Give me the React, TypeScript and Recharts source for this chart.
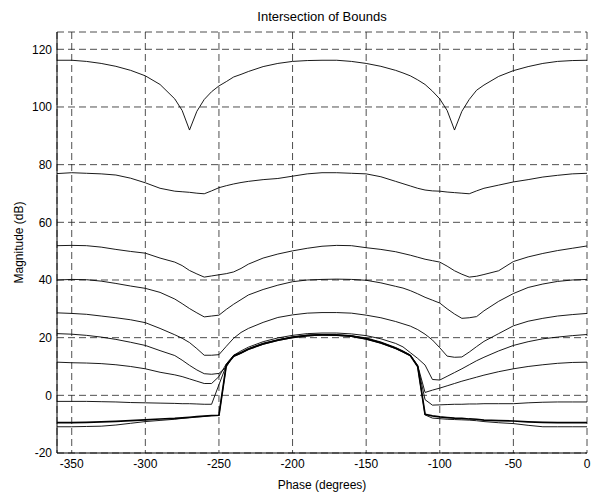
import { LineChart, Line, XAxis, YAxis, CartesianGrid } from "recharts";

// phase grid (degrees)
const phase = [
  -360, -350, -340, -330, -320, -310, -300, -290, -280, -275, -270, -265, -260, -255, -250, -245,
  -240, -235, -230, -220, -210, -200, -190, -180, -170, -160, -150, -140, -130, -125, -120, -115,
  -110, -105, -100, -95, -90, -85, -80, -75, -70, -60, -50, -40, -30, -20, -10, 0,
];

// magnitude bounds (dB), one array per frequency
const bound1 = [
  116.2, 116.2, 115.8, 115.1, 114.1, 112.7, 110.8, 107.8, 102.8, 98.8, 92, 98.5, 102.6, 105.3, 107.3, 108.8,
  110.4, 111.3, 112.3, 114.0, 115.1, 115.8, 116.1, 116.2, 116.2, 115.8, 115.1, 114.1, 112.7, 111.8, 110.8, 109.4,
  107.8, 105.5, 102.8, 98.8, 92, 98.5, 102.6, 105.8, 107.6, 110.6, 112.6, 114.0, 115.1, 115.8, 116.1, 116.2,
];
const bound2 = [
  76.9, 77.2, 77.0, 76.8, 76.4, 75.3, 73.7, 71.8, 70.8, 70.6, 70.4, 70.1, 69.9, 70.9, 72.0, 72.7,
  73.3, 73.8, 74.2, 74.8, 75.2, 76.0, 76.8, 77.2, 77.2, 77.0, 76.8, 75.8, 74.2, 73.4, 72.6, 71.8,
  71.2, 70.9, 70.8, 70.5, 70.3, 70.1, 69.9, 70.9, 71.8, 72.9, 74.0, 74.8, 75.7, 76.3, 76.8, 77.0,
];
const bound3 = [
  51.9, 52.0, 51.9, 51.4, 50.6, 49.9, 49.3, 47.6, 46.2, 45.0, 43.3, 42.1, 41.0, 41.4, 41.8, 42.2,
  42.8, 44.0, 45.5, 47.6, 49.0, 50.1, 51.0, 51.7, 52.0, 51.9, 51.2, 50.6, 49.8, 49.2, 48.6, 47.9,
  47.2, 46.7, 46.2, 44.8, 43.2, 42.0, 41.0, 41.3, 41.9, 43.2, 46.4, 48.0, 49.2, 50.2, 51.0, 51.8,
];
const bound4 = [
  40.0, 40.2, 40.1, 39.6, 38.8, 37.9, 37.1, 35.7, 33.4, 31.8, 30.1, 28.6, 27.2, 27.5, 27.8, 29.8,
  31.6, 33.2, 34.8, 36.7, 38.2, 39.4, 40.0, 40.2, 40.3, 40.2, 39.9, 39.0, 37.8, 37.2, 36.3, 35.2,
  34.0, 33.0, 32.0, 30.0, 28.2, 26.7, 26.9, 27.3, 29.3, 32.6, 35.3, 37.4, 38.6, 39.5, 40.0, 40.2,
];
const bound5 = [
  28.6, 28.4, 28.1, 27.5, 26.9, 26.2, 25.2, 23.2, 21.0, 19.8, 18.3, 16.2, 13.9, 13.9, 14.1, 17.0,
  19.8, 21.8, 23.2, 25.3, 27.0, 27.9, 28.5, 28.7, 28.7, 28.5, 27.8, 26.9, 25.6, 24.8, 24.0, 22.8,
  21.2, 19.2, 16.5, 13.6, 13.2, 13.3, 15.0, 16.9, 18.7, 21.4, 24.1, 25.7, 26.7, 27.5, 28.0, 28.4,
];
const bound6 = [
  21.4, 21.2, 20.8, 20.2, 19.4, 18.4, 17.3, 15.5, 13.8, 12.2, 10.4, 8.8, 7.5, 7.3, 7.6, 9.8,
  13.9, 15.4, 16.7, 18.6, 19.9, 20.8, 21.4, 21.6, 21.6, 21.3, 20.7, 19.6, 18.0, 16.8, 14.8, 12.8,
  10.5, 5.5, 5.3, 6.6, 7.9, 9.2, 10.6, 12.0, 13.2, 15.4, 17.3, 18.6, 19.6, 20.2, 20.7, 21.1,
];
const bound7 = [
  11.5, 11.3, 11.2, 11.0, 10.6, 10.0, 9.2, 8.0, 7.1, 6.5, 5.7, 4.9, 4.1, 4.1, 6.5, 10.9,
  13.9, 14.9, 16.2, 18.1, 19.3, 20.3, 20.9, 21.1, 21.0, 20.7, 19.9, 18.5, 16.6, 15.4, 14.0, 10.4,
  1.0, 1.8, 2.5, 3.3, 4.1, 4.9, 5.6, 6.3, 7.0, 8.2, 9.2, 10.0, 10.6, 11.1, 11.4, 11.5,
];
const bound8 = [
  -2.1, -2.1, -2.1, -2.2, -2.3, -2.5, -2.6, -2.7, -2.8, -2.9, -2.9, -3.0, -3.1, -3.1, 3.7, 10.4,
  13.7, 14.8, 16.1, 17.9, 19.2, 20.2, 20.8, 21.0, 20.9, 20.6, 19.7, 18.3, 16.4, 15.2, 13.9, 10.2,
  -1.5, -3.4, -3.3, -3.2, -3.1, -3.1, -3.0, -3.0, -2.9, -2.9, -2.9, -2.6, -2.4, -2.3, -2.3, -2.3,
];
const bound9 = [
  -9.5, -9.5, -9.4, -9.2, -9.0, -8.8, -8.5, -8.2, -8.0, -7.8, -7.6, -7.4, -7.2, -7.0, -6.9, 10.5,
  13.6, 14.7, 16.0, 17.8, 19.1, 20.1, 20.7, 21.0, 20.9, 20.5, 19.6, 18.2, 16.3, 15.1, 13.8, 10.0,
  -6.6, -7.1, -7.5, -7.7, -7.9, -8.0, -8.2, -8.3, -8.6, -8.8, -8.9, -9.2, -9.4, -9.5, -9.5, -9.5,
];
const bound10 = [
  -10.9, -10.9, -10.8, -10.7, -10.3, -9.7, -9.1, -8.7, -8.3, -8.0, -7.8, -7.5, -7.3, -7.1, -7.0, 10.3,
  13.5, 14.6, 15.9, 17.7, 19.0, 20.0, 20.6, 20.9, 20.8, 20.4, 19.5, 18.1, 16.2, 15.0, 13.7, 9.9,
  -6.8, -7.9, -8.1, -8.3, -8.4, -8.5, -8.6, -8.8, -9.1, -9.5, -9.8, -10.4, -10.9, -10.9, -10.9, -10.9,
];

const xTicks = [-350, -300, -250, -200, -150, -100, -50, 0];
const yTicks = [-20, 0, 20, 40, 60, 80, 100, 120];

const bounds = [bound1, bound2, bound3, bound4, bound5, bound6, bound7, bound8, bound9, bound10];

const data = phase.map((p, i) => {
  const row: Record<string, number> = { phase: p };
  bounds.forEach((b, k) => (row[`b${k + 1}`] = b[i]));
  return row;
});

const font = "'Liberation Sans', Arial, Helvetica, sans-serif";
const tickStyle = { fill: "#000", fontSize: 12, fontFamily: font };

export default function App() {
  return (
    <div style={{ position: "absolute", left: 0, top: 0, width: 593, height: 492, background: "#fff" }}>
      <div
        style={{
          position: "absolute",
          left: 57,
          width: 530,
          top: 9,
          textAlign: "center",
          fontFamily: font,
          fontSize: 13,
          lineHeight: "15px",
          color: "#000",
        }}
      >
        Intersection of Bounds
      </div>
      <LineChart width={593} height={492} data={data} margin={{ top: 32, right: 6, bottom: 0, left: 0 }}>
        <CartesianGrid xAxisId="b" yAxisId="l" stroke="#222" strokeDasharray="7 4" strokeWidth={0.8} />
        <XAxis
          xAxisId="bt"
          orientation="bottom"
          type="number"
          dataKey="phase"
          domain={[-360, 0]}
          ticks={xTicks}
          height={0}
          mirror
          tick={false}
          tickSize={5}
          axisLine={false}
          tickLine={{ stroke: "#000" }}
          allowDataOverflow
        />
        <XAxis
          xAxisId="b"
          type="number"
          dataKey="phase"
          domain={[-360, 0]}
          ticks={xTicks}
          height={39}
          tick={tickStyle}
          tickLine={false}
          tickSize={4}
          tickMargin={2}
          axisLine={{ stroke: "#000" }}
          allowDataOverflow
          label={{ value: "Phase (degrees)", position: "insideBottom", offset: 3, fill: "#000", fontSize: 12, fontFamily: font }}
        />
        <XAxis
          xAxisId="t"
          orientation="top"
          type="number"
          dataKey="phase"
          domain={[-360, 0]}
          ticks={xTicks}
          height={0}
          mirror
          tick={false}
          tickSize={5}
          axisLine={{ stroke: "#000" }}
          tickLine={{ stroke: "#000" }}
          allowDataOverflow
        />
        <YAxis
          yAxisId="lt"
          orientation="left"
          type="number"
          domain={[-20, 126]}
          ticks={yTicks}
          width={0}
          mirror
          tick={false}
          tickSize={5}
          axisLine={false}
          tickLine={{ stroke: "#000" }}
          allowDataOverflow
        />
        <YAxis
          yAxisId="l"
          type="number"
          domain={[-20, 126]}
          ticks={yTicks}
          width={57}
          tick={tickStyle}
          tickLine={false}
          tickSize={5}
          tickMargin={0}
          axisLine={{ stroke: "#000" }}
          allowDataOverflow
          label={{ value: "Magnitude (dB)", angle: -90, position: "center", dx: -10, fill: "#000", fontSize: 12, fontFamily: font }}
        />
        <YAxis
          yAxisId="r"
          orientation="right"
          type="number"
          domain={[-20, 126]}
          ticks={yTicks}
          width={0}
          mirror
          tick={false}
          tickSize={5}
          axisLine={{ stroke: "#000" }}
          tickLine={{ stroke: "#000" }}
          allowDataOverflow
        />
        {bounds.map((_, k) => (
          <Line
            key={k}
            xAxisId="b"
            yAxisId="l"
            type="linear"
            dataKey={`b${k + 1}`}
            stroke="#000"
            strokeWidth={k === 8 ? 1.7 : 0.9}
            dot={false}
            activeDot={false}
            isAnimationActive={false}
          />
        ))}
      </LineChart>
    </div>
  );
}
